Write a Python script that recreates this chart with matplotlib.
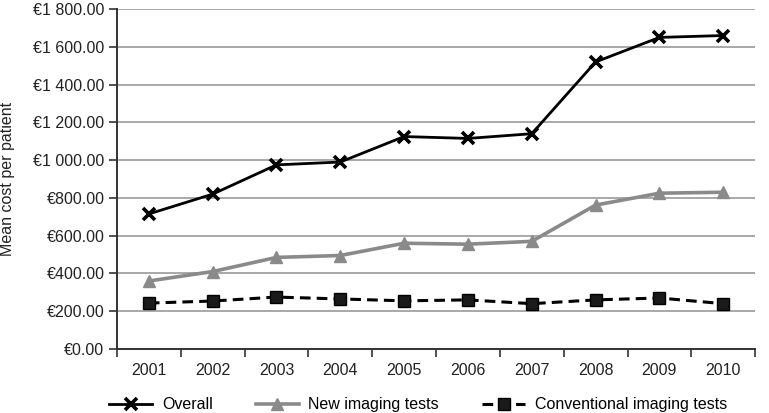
import matplotlib
matplotlib.use("Agg")
import matplotlib.pyplot as plt
from matplotlib.ticker import FuncFormatter, FixedLocator

years = ["2001", "2002", "2003", "2004", "2005", "2006", "2007", "2008", "2009", "2010"]
overall = [715, 820, 975, 990, 1125, 1115, 1140, 1520, 1650, 1660]
new_imaging = [360, 410, 485, 495, 560, 555, 570, 762, 825, 830]
conventional = [243, 254, 275, 265, 255, 260, 240, 260, 270, 240]
yticks = [0, 200, 400, 600, 800, 1000, 1200, 1400, 1600, 1800]

plt.rcParams['font.family'] = ['Liberation Sans', 'DejaVu Sans']

fig = plt.figure(figsize=(7.69, 4.13), dpi=100)
ax = fig.add_axes([0.152, 0.155, 0.83, 0.823])

x = list(range(len(years)))
ax.plot(x, overall, color='black', lw=2.0, marker='x', ms=9, mew=2.6, label='Overall', zorder=4)
ax.plot(x, new_imaging, color='#8a8a8a', lw=2.6, marker='^', ms=9, label='New imaging tests', zorder=3)
ax.plot(x, conventional, color='black', lw=2.2, ls=(0, (3.5, 2)), marker='s', ms=8.5,
        markerfacecolor='#1a1a1a', label='Conventional imaging tests', zorder=3)

ax.set_xlim(-0.5, len(years) - 0.5)
ax.set_ylim(0, 1800)
ax.set_yticks(yticks)

def fmt(v, pos):
    s = f"{v:,.2f}".replace(",", " ")
    return "€" + s
ax.yaxis.set_major_formatter(FuncFormatter(fmt))

ax.set_xticks(x)
ax.set_xticklabels(years)
ax.xaxis.set_minor_locator(FixedLocator([i - 0.5 for i in range(len(years) + 1)]))
ax.tick_params(axis='x', which='major', length=0, pad=10, labelsize=11.5, colors='#222222')
ax.tick_params(axis='x', which='minor', length=6, width=1.2, color='#333333', direction='out')
ax.tick_params(axis='y', which='major', length=6, width=1.2, color='#333333', labelsize=11.5,
               pad=3, labelcolor='#222222')

ax.grid(axis='y', color='#a8a8a8', lw=1.4)
ax.set_axisbelow(True)
for s in ['top', 'right']:
    ax.spines[s].set_visible(False)
for s in ['left', 'bottom']:
    ax.spines[s].set_color('#333333')
    ax.spines[s].set_linewidth(1.4)

ax.set_ylabel('Mean cost per patient', fontsize=11.5, color='#222222', labelpad=13)

ax.legend(loc='upper center', bbox_to_anchor=(0.472, -0.1), ncol=3, frameon=False,
          fontsize=11.5, handlelength=2.7, columnspacing=2.7, handletextpad=0.6)

fig.savefig('out.png', dpi=100)
